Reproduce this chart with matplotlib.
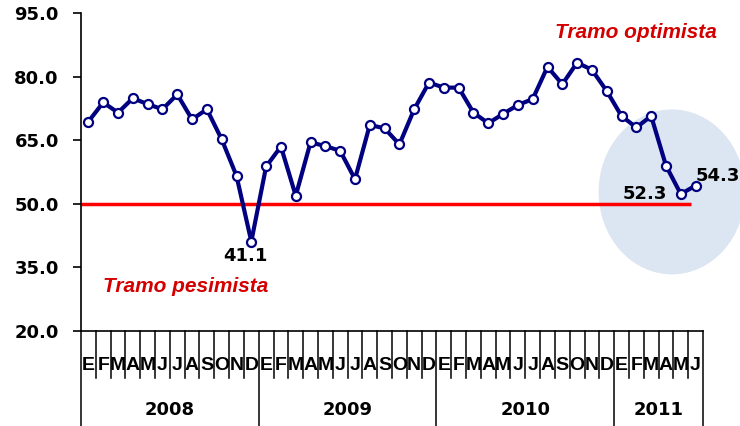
import matplotlib
matplotlib.use("Agg")
import matplotlib.pyplot as plt
from matplotlib.patches import Ellipse
from matplotlib.transforms import blended_transform_factory

# Monthly index, Jan 2008 - Jun 2011
values = [69.4, 73.9, 71.5, 74.9, 73.5, 72.3, 75.8, 69.9, 72.3, 65.2, 56.6, 41.1,
          58.8, 63.5, 51.9, 64.5, 63.6, 62.5, 55.8, 68.6, 67.8, 64.0, 72.3, 78.6,
          77.4, 77.4, 71.5, 69.0, 71.2, 73.3, 74.7, 82.3, 78.2, 83.3, 81.6, 76.6,
          70.7, 68.0, 70.7, 59.0, 52.3, 54.3]
month_letters = ["E", "F", "M", "A", "M", "J", "J", "A", "S", "O", "N", "D"]
years = ["2008", "2009", "2010", "2011"]
months_per_year = [12, 12, 12, 6]
yticks = [20, 35, 50, 65, 80, 95]
threshold = 50

navy = "#000080"
bold_font = "DejaVu Sans"
narrow = ["Liberation Sans Narrow", "Liberation Sans", "DejaVu Sans"]

fig = plt.figure(figsize=(7.4, 4.26), dpi=100)
ax = fig.add_axes([81 / 740, 95 / 426, 622 / 740, 318 / 426])

n = len(values)
x = [i + 0.5 for i in range(n)]

# highlight bubble around the latest months
ax.add_patch(Ellipse((39.9, 52.8), 9.9, 38.9, facecolor="#dce6f2",
                     edgecolor="none", zorder=0, clip_on=False))

ax.plot([0, 41.2], [threshold, threshold], color="#ff0000", lw=2.5, zorder=1,
        solid_capstyle="butt")
ax.plot(x, values, color=navy, lw=3, marker="o", markersize=6.5,
        markerfacecolor="white", markeredgecolor=navy, markeredgewidth=1.6, zorder=3)

ax.set_xlim(0, n)
ax.set_ylim(20, 95)
ax.set_yticks(yticks)
ax.set_yticklabels([f"{v:.1f}" for v in yticks], fontsize=13,
                   fontweight="bold", family=bold_font)
ax.tick_params(axis="y", length=6, width=1.2, pad=10)
ax.set_xticks([])
for s in ["top", "right"]:
    ax.spines[s].set_visible(False)
ax.spines["left"].set_linewidth(1.2)
ax.spines["bottom"].set_linewidth(1.2)

# point labels
lab = dict(fontsize=13, fontweight="bold", family=bold_font)
ax.annotate("41.1", (11.5, values[11]), xytext=(-4, -4), textcoords="offset points",
            ha="center", va="top", **lab)
ax.annotate("52.3", (40.5, values[40]), xytext=(-10, 0), textcoords="offset points",
            ha="right", va="center", **lab)
ax.annotate("54.3", (41.5, values[41]), xytext=(0, 7), textcoords="offset points",
            ha="left", va="center", **lab)

ax.text(32.0, 90.5, "Tramo optimista", color="#d40000", fontsize=15,
        fontweight="bold", style="italic", family="Liberation Sans", va="center")
ax.text(1.5, 30.4, "Tramo pesimista", color="#d40000", fontsize=15,
        fontweight="bold", style="italic", family="Liberation Sans", va="center")

# category axis: month ticks, month letters, year blocks
trans = blended_transform_factory(ax.transData, ax.transAxes)
year_edges = [0]
for m in months_per_year:
    year_edges.append(year_edges[-1] + m)
for b in range(n + 1):
    low = -0.299 if b in year_edges else -0.148
    ax.plot([b, b], [0, low], color="black", lw=1.1, transform=trans, clip_on=False)
for i in range(n):
    ax.text(i + 0.5, -0.107, month_letters[i % 12], transform=trans, ha="center",
            va="center", fontsize=14, fontweight="bold", family=narrow)
for k, yr in enumerate(years):
    mid = (year_edges[k] + year_edges[k + 1]) / 2
    ax.text(mid, -0.248, yr, transform=trans, ha="center", va="center",
            fontsize=13, fontweight="bold", family=bold_font)

fig.savefig("out.png", dpi=100)
